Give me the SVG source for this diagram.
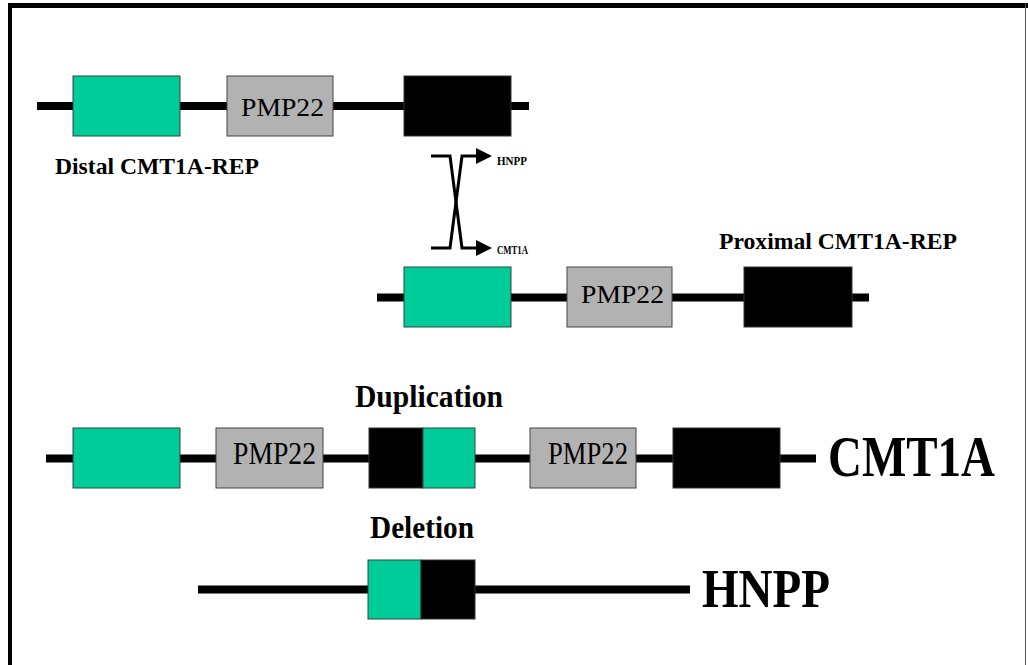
<svg xmlns="http://www.w3.org/2000/svg" width="1028" height="665" viewBox="0 0 1028 665">
<style>
.ln{stroke:#000;stroke-width:8;fill:none}
.g{fill:#00CC99;stroke:#2a4a40;stroke-width:1}
.p{fill:#B2B2B2;stroke:#444;stroke-width:1}
.k{fill:#000;stroke:#333;stroke-width:1}
.t{font-family:"Liberation Serif","Times New Roman",serif;fill:#000}
.b{font-weight:bold}
.x{stroke:#000;stroke-width:3;fill:none}
</style>
<rect x="0" y="0" width="1028" height="665" fill="#fff"/>
<g id="frame">
<rect x="8" y="3" width="1020" height="5" fill="#000"/>
<rect x="8" y="3" width="4" height="662" fill="#000"/>
<line x1="1025.5" y1="3" x2="1025.5" y2="665" stroke="#555" stroke-width="1"/>
</g>
<g id="connectors">
<line class="ln" x1="37" y1="106" x2="529" y2="106"/>
<line class="ln" x1="377" y1="297.5" x2="869" y2="297.5"/>
<line class="ln" x1="46" y1="458.5" x2="816" y2="458.5"/>
<line class="ln" x1="198" y1="589.5" x2="690" y2="589.5"/>
<path class="x" d="M431,156 H450 L462,248 H478"/>
<path class="x" d="M431,248 H450 L462,156 H478"/>
<polygon points="476,148 492,156 476,164" fill="#000"/>
<polygon points="476,240 492,248 476,256" fill="#000"/>
</g>
<g id="row1">
<rect class="g" x="73" y="76" width="107" height="60"/>
<rect class="p" x="227" y="76" width="106" height="60"/>
<text class="t" x="241" y="116" font-size="25" textLength="83" lengthAdjust="spacingAndGlyphs">PMP22</text>
<rect class="k" x="404" y="76" width="107" height="60"/>
<text class="t b" x="55" y="174" font-size="23.5" textLength="204" lengthAdjust="spacingAndGlyphs">Distal CMT1A-REP</text>
</g>
<g id="cross-labels">
<text class="t b" x="497" y="165" font-size="12" textLength="30" lengthAdjust="spacingAndGlyphs">HNPP</text>
<text class="t b" x="497" y="254" font-size="12" textLength="31" lengthAdjust="spacingAndGlyphs">CMT1A</text>
</g>
<g id="row2">
<rect class="g" x="404" y="267" width="107" height="60"/>
<rect class="p" x="567" y="267" width="105" height="60"/>
<text class="t" x="581" y="302.5" font-size="25" textLength="83" lengthAdjust="spacingAndGlyphs">PMP22</text>
<rect class="k" x="744" y="267" width="108" height="60"/>
<text class="t b" x="719" y="249" font-size="23.5" textLength="238" lengthAdjust="spacingAndGlyphs">Proximal CMT1A-REP</text>
</g>
<g id="row3">
<text class="t b" x="355" y="407" font-size="31" textLength="148" lengthAdjust="spacingAndGlyphs">Duplication</text>
<rect class="g" x="73" y="428" width="107" height="60"/>
<rect class="p" x="216" y="428" width="107" height="60"/>
<text class="t" x="233" y="464" font-size="31" textLength="83" lengthAdjust="spacingAndGlyphs">PMP22</text>
<rect class="k" x="369" y="428" width="54" height="60"/>
<rect class="g" x="423" y="428" width="52" height="60"/>
<rect class="p" x="530" y="428" width="106" height="60"/>
<text class="t" x="548" y="464" font-size="31" textLength="80" lengthAdjust="spacingAndGlyphs">PMP22</text>
<rect class="k" x="673" y="428" width="107" height="60"/>
<text class="t b" x="828" y="476" font-size="56" textLength="167" lengthAdjust="spacingAndGlyphs">CMT1A</text>
</g>
<g id="row4">
<text class="t b" x="370" y="538" font-size="31" textLength="104" lengthAdjust="spacingAndGlyphs">Deletion</text>
<rect class="g" x="368" y="560" width="53" height="59"/>
<rect class="k" x="421" y="560" width="54" height="59"/>
<text class="t b" x="702" y="607" font-size="54" textLength="128" lengthAdjust="spacingAndGlyphs">HNPP</text>
</g>
</svg>
